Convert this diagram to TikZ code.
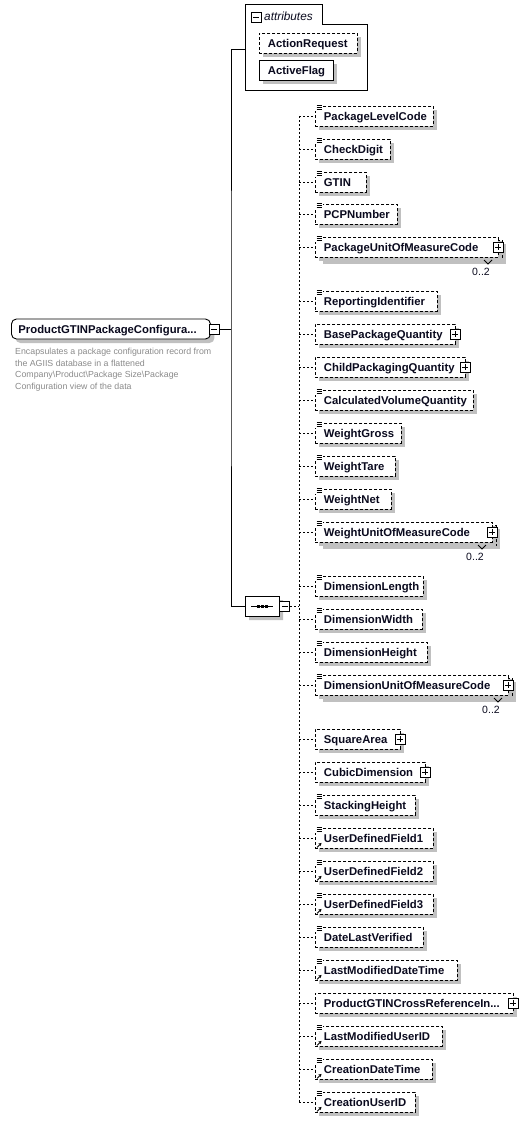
\documentclass[tikz,border=0pt]{standalone}
\usepackage{fontspec}
\setmainfont{Liberation Sans}
\usepackage{tikz}
\usetikzlibrary{calc,arrows.meta,positioning,shapes.misc,shadows}
\definecolor{shadc}{HTML}{C0C0C0}
\definecolor{descc}{HTML}{8A8A8A}
\definecolor{txtc}{HTML}{0A0A1E}
\newcommand\cutdots{...}
\tikzset{
  shd/.style={general shadow={fill=shadc,shadow xshift=4pt,shadow yshift=-4pt}},
  conn/.style={line width=0.9pt},
  dconn/.style={conn,dash pattern=on 2pt off 2pt},
  elem/.style={draw,conn,dash pattern=on 3pt off 2pt,fill=white,shd,anchor=west,minimum height=20pt,
    inner xsep=8.5pt,inner ysep=0pt,text height=10pt,text depth=2pt,align=left,
    font=\bfseries\fontsize{11.3}{13}\selectfont,text=txtc},
  backbox/.style={draw,conn,dash pattern=on 3pt off 2pt,fill=white,shd},
  rootbox/.style={elem,solid,rounded corners=5pt,inner xsep=7pt},
  desc/.style={anchor=north west,inner sep=0pt,align=left,font=\fontsize{8.8}{11.5}\selectfont,text=descc},
  seqbox/.style={draw,conn,fill=white,shd,chamfered rectangle,chamfered rectangle xsep=6pt,
    chamfered rectangle ysep=5pt,minimum width=34pt,minimum height=20pt,inner sep=0pt},
  pm/.style={draw,line width=0.8pt,fill=white,minimum size=10pt,inner sep=0pt},
  minusbx/.style={pm,path picture={\draw[line width=0.8pt] ($(path picture bounding box.west)+(2,0)$) -- ($(path picture bounding box.east)+(-2,0)$);}},
  plusbx/.style={pm,path picture={\draw[line width=0.8pt] ($(path picture bounding box.west)+(2,0)$) -- ($(path picture bounding box.east)+(-2,0)$)
    ($(path picture bounding box.north)+(0,2)$) -- ($(path picture bounding box.south)+(0,-2)$);}},
  mult/.style={inner sep=0pt,font=\fontsize{10.5}{12}\selectfont,text=txtc}
}
\begin{document}
\begin{tikzpicture}[x=1pt,y=-1pt]
\useasboundingbox (0,0) rectangle (530,1122);
% root element
\node[rootbox,text width=185pt] (root) at (11,329) {\mbox{ProductGTINPackageConfigura...}};
\node[minusbx] (rootm) at ($(root.east)+(3,0)$) {};
\node[desc] (rootdoc) at (15,348) {Encapsulates a package configuration record from\\the AGIIS database in a flattened\\Company\textbackslash Product\textbackslash Package Size\textbackslash Package\\Configuration view of the data};
% attributes
\coordinate (attrin) at (245,49);
\draw[conn,fill=white] (245,90) -- (245,4) -- (322,4) -- (322,24) -- (367,24) -- (367,90) -- cycle;
\node[minusbx] (attrm) at (256,17) {};
\node[anchor=west,inner sep=0pt,font=\itshape\fontsize{11.8}{13}\selectfont,text=txtc] (attrlab) at (264,16) {attributes};
\node[elem,text width=81pt] (a1) at (259,43) {\mbox{ActionRequest}};
\node[elem,solid,text width=57pt] (a2) at (259,70) {\mbox{ActiveFlag}};
% sequence
\node[seqbox] (seq) at (262,606) {};
\draw[conn] ($(seq.center)+(-11,0)$) -- ($(seq.center)+(11,0)$);
\foreach \dx in {-4,0,4}{\fill ($(seq.center)+(\dx,0)$) +(-1.5,-1.5) rectangle +(1.5,1.5);}
\node[minusbx,right=0pt of seq] (seqm) {};
\coordinate (hub) at (231,329);
\draw[conn] (rootm.east) -- (hub);
\draw[conn] (attrin) -| (hub) |- (seq.west);
% repeated elements (back copies)
\foreach \yy/\rr in {247/498,532/492,685/508}{\draw[backbox] (319,\yy-7) rectangle (\rr+4,\yy+13);}
% child elements
\foreach \nm/\lab/\yy/\rr in {
  c1/PackageLevelCode/116/433, c2/CheckDigit/149/390, c3/GTIN/182/366, c4/PCPNumber/214/397,
  c5/PackageUnitOfMeasureCode/247/498, c6/ReportingIdentifier/301/437, c7/BasePackageQuantity/334/455,
  c8/ChildPackagingQuantity/367/465, c9/CalculatedVolumeQuantity/400/473, c10/WeightGross/433/401,
  c11/WeightTare/466/395, c12/WeightNet/499/391, c13/WeightUnitOfMeasureCode/532/492,
  c14/DimensionLength/586/423, c15/DimensionWidth/619/422, c16/DimensionHeight/652/427,
  c17/DimensionUnitOfMeasureCode/685/508, c18/SquareArea/739/400, c19/CubicDimension/772/425,
  c20/StackingHeight/805/415, c21/UserDefinedField1/838/433, c22/UserDefinedField2/871/433,
  c23/UserDefinedField3/904/433, c24/DateLastVerified/937/423, c25/LastModifiedDateTime/970/457,
  c26/ProductGTINCrossReferenceIn\cutdots/1003/513, c27/LastModifiedUserID/1036/442,
  c28/CreationDateTime/1069/432, c29/CreationUserID/1102/415}{
  \pgfmathsetmacro\tw{\rr-315-17}
  \node[elem,text width=\tw pt] (\nm) at (315,\yy) {\mbox{\lab}};
}
% simple type marks
\foreach \nm in {c1,c2,c3,c4,c5,c6,c9,c10,c11,c12,c13,c14,c15,c16,c17,c20,c21,c22,c23,c24,c25,c27,c28,c29}{
  \fill[white] ($(\nm.north west)+(-1,-2)$) rectangle ($(\nm.north west)+(8,5)$);
  \foreach \dy in {-0.5,1.5,3.5}{\draw[line width=0.8pt] ($(\nm.north west)+(1.5,\dy)$) -- ($(\nm.north west)+(6.5,\dy)$);}
}
% reference marks
\foreach \nm in {c21,c22,c23,c25,c27,c28,c29}{
  \draw[line width=0.8pt,-{Stealth[length=3pt,width=3.5pt]}] ($(\nm.south west)+(2,-1)$) -- ($(\nm.south west)+(6.5,-5.5)$);
}
% expand boxes
\foreach \nm in {c5,c7,c8,c13,c17,c18,c19,c26}{\node[plusbx] (\nm-p) at ($(\nm.east)+(-1,0)$) {};}
% occurrences
\foreach \nm/\yy/\rr in {c5/247/498,c13/532/492,c17/685/508}{
  \draw[line width=0.8pt] (\rr-14,\yy+13) -- (\rr-10,\yy+17) -- (\rr-6,\yy+13);
  \node[mult] (\nm-q) at (\rr-17,\yy+25) {0..2};
}
% connectors to children
\coordinate (bus) at (299,606);
\draw[dconn] (seqm.east) -- (bus);
\draw[dconn] (bus |- c1.west) -- (bus |- c29.west);
\foreach \i in {1,...,29}{\draw[dconn] (bus |- c\i.west) -- (c\i.west);}
\end{tikzpicture}
\end{document}
